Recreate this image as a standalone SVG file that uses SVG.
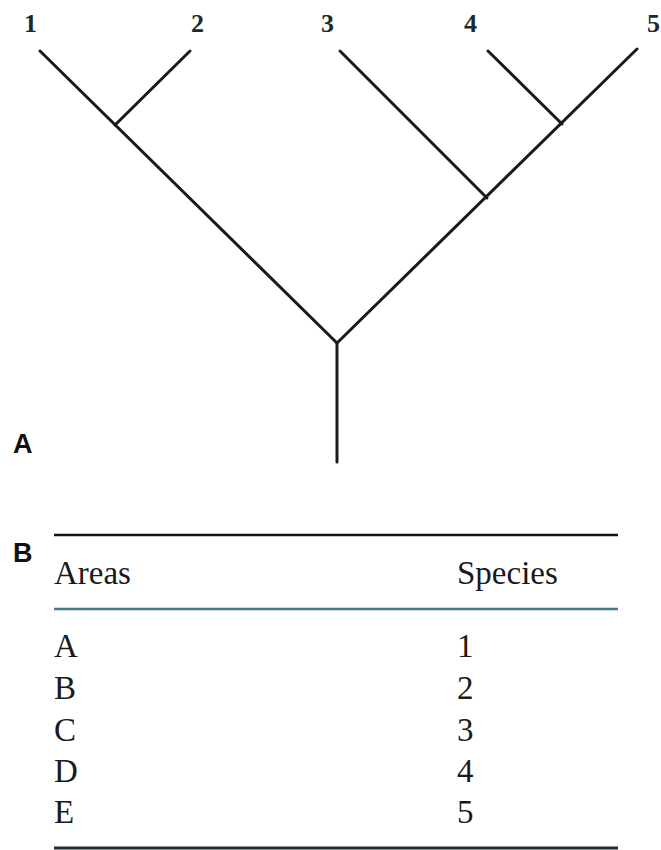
<svg xmlns="http://www.w3.org/2000/svg" width="661" height="850" viewBox="0 0 661 850">
<style>
.br{stroke:#1a1a1a;stroke-width:3;fill:none;stroke-linecap:round}
.lf{font-family:"Liberation Serif",serif;font-size:26px;font-weight:bold;fill:#1a2a30}
.pl{font-family:"Liberation Sans",sans-serif;font-size:27px;font-weight:bold;fill:#111}
.tx{font-family:"Liberation Serif",serif;font-size:33px;fill:#1a1a1a}
</style>
<rect width="661" height="850" fill="#fff"/>
<g id="connectors">
<line class="br" x1="40" y1="51" x2="337" y2="343"/>
<line class="br" x1="190" y1="51" x2="115" y2="125"/>
<line class="br" x1="340" y1="51" x2="487" y2="198"/>
<line class="br" x1="488" y1="51" x2="562" y2="124"/>
<line class="br" x1="637" y1="49" x2="337" y2="343"/>
<line class="br" x1="337" y1="343" x2="337" y2="462"/>
</g>
<g id="leaf1"><text class="lf" x="24" y="32">1</text></g>
<g id="leaf2"><text class="lf" x="191" y="32">2</text></g>
<g id="leaf3"><text class="lf" x="321" y="32">3</text></g>
<g id="leaf4"><text class="lf" x="464" y="32">4</text></g>
<g id="leaf5"><text class="lf" x="647" y="32">5</text></g>
<g id="panelA"><text class="pl" x="13" y="453">A</text></g>
<g id="panelB"><text class="pl" x="13" y="562">B</text></g>
<g id="table">
<line x1="54" y1="535" x2="618" y2="535" stroke="#111" stroke-width="2.5"/>
<line x1="54" y1="609" x2="618" y2="609" stroke="#4a7888" stroke-width="2.5"/>
<line x1="54" y1="848" x2="618" y2="848" stroke="#1d2c33" stroke-width="3"/>
<text class="tx" x="54" y="584">Areas</text>
<text class="tx" x="457" y="584">Species</text>
<text class="tx" x="54" y="657">A</text>
<text class="tx" x="54" y="699">B</text>
<text class="tx" x="54" y="741">C</text>
<text class="tx" x="54" y="782">D</text>
<text class="tx" x="54" y="823">E</text>
<text class="tx" x="457" y="657">1</text>
<text class="tx" x="457" y="699">2</text>
<text class="tx" x="457" y="741">3</text>
<text class="tx" x="457" y="782">4</text>
<text class="tx" x="457" y="823">5</text>
</g>
</svg>
